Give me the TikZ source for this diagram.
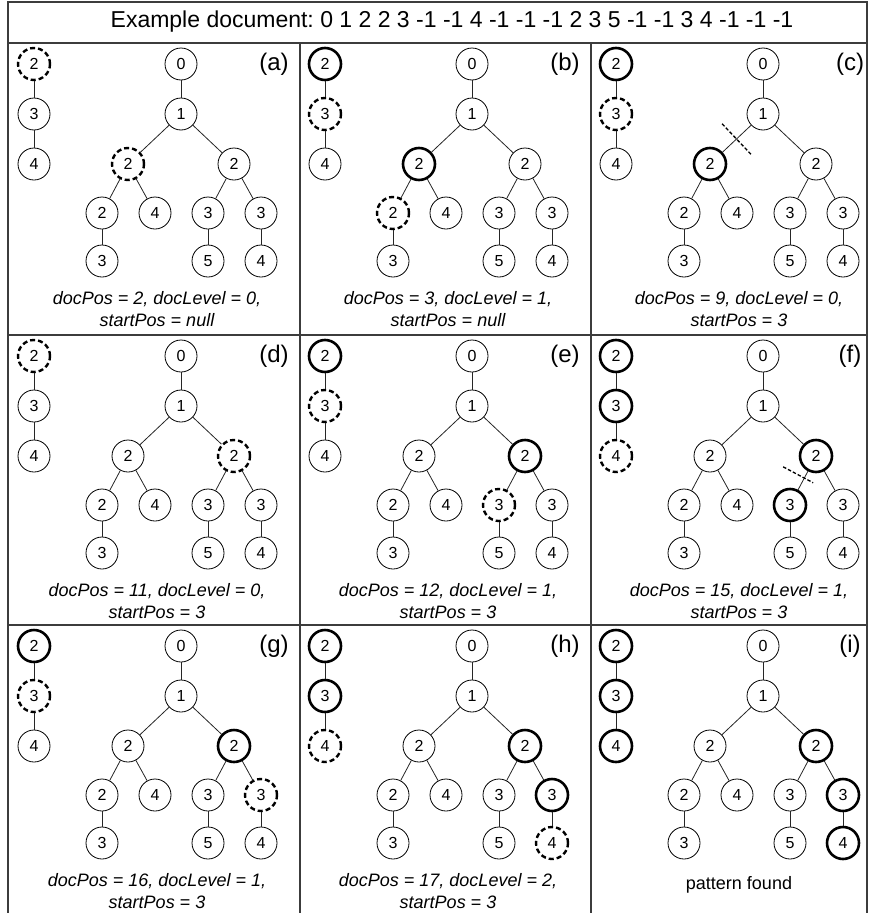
\documentclass[tikz,border=0pt]{standalone}
\usepackage{fontspec}
\setmainfont{Liberation Sans}
\usepackage{xcolor}
\usepackage{tikz}
\usetikzlibrary{calc}
\definecolor{frameGray}{HTML}{3C3C3C}
\definecolor{treeInk}{HTML}{000000}
\frenchspacing
\tikzset{
  treeNode/.style={
    circle,
    draw=treeInk,
    fill=white,
    line width=0.8pt,
    minimum size=32pt,
    inner sep=0pt,
    font=\fontsize{16}{18}\selectfont
  },
  matchedNode/.style={
    line width=2.6pt
  },
  currentNode/.style={
    line width=2.4pt,
    dash pattern=on 5pt off 3pt
  },
  treeEdge/.style={
    line width=0.8pt,
    draw=treeInk!85
  },
  cutMark/.style={
    line width=1.3pt,
    dash pattern=on 3.5pt off 2pt
  },
  frameLine/.style={
    line width=1.6pt,
    draw=frameGray
  },
  docTitle/.style={
    font=\fontsize{23}{27}\selectfont
  },
  panelLabel/.style={
    font=\fontsize{24}{28}\selectfont
  },
  panelCaption/.style={
    align=center,
    font=\fontsize{18}{22}\selectfont\itshape
  }
}
\newcommand{\searchPanel}[5]{%
  \begin{scope}[shift={(#2,#3)},
      hlP1/.style={}, hlP2/.style={}, hlP3/.style={},
      hlT2a/.style={}, hlT2b/.style={}, hlT3a/.style={},
      hlT3c/.style={}, hlT3d/.style={}, hlT4d/.style={},
      labelShift/.style={}, captionShift/.style={}, #4]
    \node[treeNode,hlP1] (#1-p1) at (25,21) {2};
    \node[treeNode,hlP2] (#1-p2) at (25,71) {3};
    \node[treeNode,hlP3] (#1-p3) at (25,121) {4};
    \node[treeNode] (#1-t0) at (172,21) {0};
    \node[treeNode] (#1-t1) at (172,71) {1};
    \node[treeNode,hlT2a] (#1-t2a) at (119,121) {2};
    \node[treeNode,hlT2b] (#1-t2b) at (225,121) {2};
    \node[treeNode,hlT3a] (#1-t3a) at (93,170) {2};
    \node[treeNode] (#1-t3b) at (146,170) {4};
    \node[treeNode,hlT3c] (#1-t3c) at (199,170) {3};
    \node[treeNode,hlT3d] (#1-t3d) at (252,170) {3};
    \node[treeNode] (#1-t4a) at (93,218) {3};
    \node[treeNode] (#1-t4c) at (199,218) {5};
    \node[treeNode,hlT4d] (#1-t4d) at (252,218) {4};
    \draw[treeEdge] (#1-p1) -- (#1-p2) -- (#1-p3);
    \draw[treeEdge] (#1-t0) -- (#1-t1);
    \draw[treeEdge] (#1-t1) -- (#1-t2a);
    \draw[treeEdge] (#1-t1) -- (#1-t2b);
    \draw[treeEdge] (#1-t2a) -- (#1-t3a);
    \draw[treeEdge] (#1-t2a) -- (#1-t3b);
    \draw[treeEdge] (#1-t2b) -- (#1-t3c);
    \draw[treeEdge] (#1-t2b) -- (#1-t3d);
    \draw[treeEdge] (#1-t3a) -- (#1-t4a);
    \draw[treeEdge] (#1-t3c) -- (#1-t4c);
    \draw[treeEdge] (#1-t3d) -- (#1-t4d);
    \node[panelLabel,labelShift] (#1-label) at (265,21) {(#1)};
    \node[panelCaption,captionShift] (#1-caption) at (148,266) {#5};
  \end{scope}}

\begin{document}
\begin{tikzpicture}[x=1pt,y=-1pt]
  \useasboundingbox (0,0) rectangle (869,913);
  \draw[frameLine] (8,913) -- (8,2) -- (867,2) -- (867,913);
  \draw[frameLine] (8,43) -- (867,43);
  \draw[frameLine] (8,335) -- (867,335);
  \draw[frameLine] (8,625) -- (867,625);
  \draw[frameLine] (300,43) -- (300,913);
  \draw[frameLine] (591,43) -- (591,913);
  \node[docTitle] (title) at (452,22) {Example document: 0 1 2 2 3 -1 -1 4 -1 -1 -1 2 3 5 -1 -1 3 4 -1 -1 -1};
  \searchPanel{a}{9}{43}{hlP1/.style=currentNode, hlT2a/.style=currentNode}{docPos = 2, docLevel = 0,\\ startPos = null}
  \searchPanel{b}{300}{43}{hlP1/.style=matchedNode, hlP2/.style=currentNode, hlT2a/.style=matchedNode, hlT3a/.style=currentNode}{docPos = 3, docLevel = 1,\\ startPos = null}
  \searchPanel{c}{591}{43}{hlP1/.style=matchedNode, hlP2/.style=currentNode, hlT2a/.style=matchedNode, labelShift/.style={xshift=-6pt}}{docPos = 9, docLevel = 0,\\ startPos = 3}
  \searchPanel{d}{9}{335}{hlP1/.style=currentNode, hlT2b/.style=currentNode}{docPos = 11, docLevel = 0,\\ startPos = 3}
  \searchPanel{e}{300}{335}{hlP1/.style=matchedNode, hlP2/.style=currentNode, hlT2b/.style=matchedNode, hlT3c/.style=currentNode}{docPos = 12, docLevel = 1,\\ startPos = 3}
  \searchPanel{f}{591}{335}{hlP1/.style=matchedNode, hlP2/.style=matchedNode, hlP3/.style=currentNode, hlT2b/.style=matchedNode, hlT3c/.style=matchedNode, labelShift/.style={xshift=-6pt}}{docPos = 15, docLevel = 1,\\ startPos = 3}
  \searchPanel{g}{9}{625}{hlP1/.style=matchedNode, hlP2/.style=currentNode, hlT2b/.style=matchedNode, hlT3d/.style=currentNode}{docPos = 16, docLevel = 1,\\ startPos = 3}
  \searchPanel{h}{300}{625}{hlP1/.style=matchedNode, hlP2/.style=matchedNode, hlP3/.style=currentNode, hlT2b/.style=matchedNode, hlT3d/.style=matchedNode, hlT4d/.style=currentNode}{docPos = 17, docLevel = 2,\\ startPos = 3}
  \searchPanel{i}{591}{625}{hlP1/.style=matchedNode, hlP2/.style=matchedNode, hlP3/.style=matchedNode, hlT2b/.style=matchedNode, hlT3d/.style=matchedNode, hlT4d/.style=matchedNode, labelShift/.style={xshift=-6pt}, captionShift/.style={yshift=6pt}}{\upshape\fontsize{18}{20}\selectfont pattern found}
  \coordinate (c-cut) at ($(c-t1)!0.5!(c-t2a)$);
  \draw[cutMark] ($(c-cut)!21pt!90:(c-t2a)$) -- ($(c-cut)!21pt!-90:(c-t2a)$);
  \coordinate (f-cut) at ($(f-t2b)!0.45!(f-t3c)$);
  \draw[cutMark] ($(f-cut)!24pt!-90:(f-t3c)$) -- ($(f-cut)!10pt!90:(f-t3c)$);
\end{tikzpicture}
\end{document}
